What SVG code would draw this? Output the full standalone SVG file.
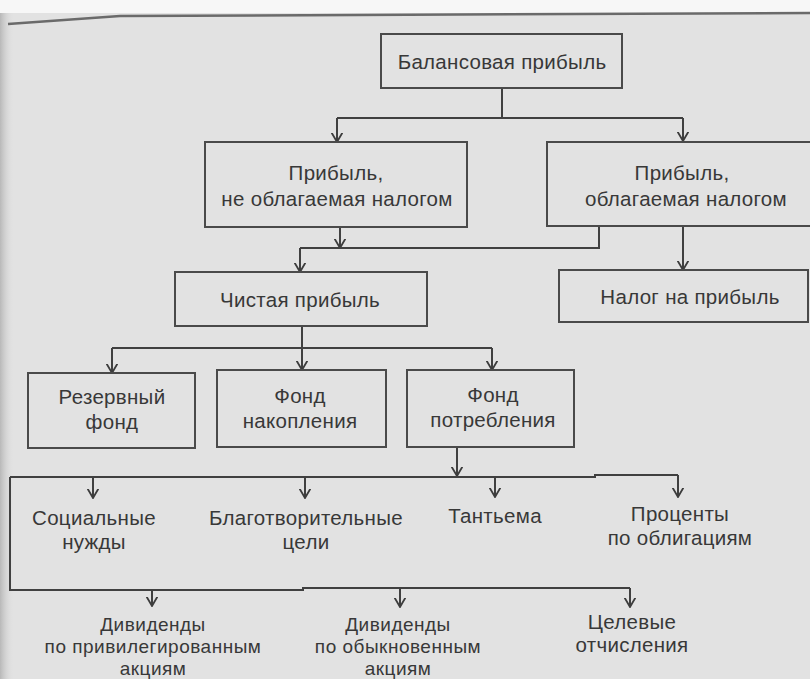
<svg xmlns="http://www.w3.org/2000/svg" width="810" height="679" viewBox="0 0 810 679">
  <defs>
    <linearGradient id="leftEdge" x1="0" y1="0" x2="1" y2="0">
      <stop offset="0" stop-color="#b8b8b8"/>
      <stop offset="1" stop-color="#e0e0e0" stop-opacity="0"/>
    </linearGradient>
    <marker id="arr" viewBox="0 0 10 12" refX="9.5" refY="6" markerWidth="10" markerHeight="12" markerUnits="userSpaceOnUse" orient="auto">
      <path d="M0,0.5 L9.5,6 L0,11.5" fill="none" stroke="#3c3c3c" stroke-width="1.8"/>
    </marker>
    <style>
      .box { fill: none; stroke: #4a4a4a; stroke-width: 2; }
      .ln { fill: none; stroke: #404040; stroke-width: 2; }
      .ar { fill: none; stroke: #404040; stroke-width: 2; marker-end: url(#arr); }
      text { font-family: "Liberation Sans", Arial, sans-serif; font-size: 20.5px; letter-spacing: 0.3px; fill: #383838; text-anchor: middle; }
      .sm { font-size: 19px; letter-spacing: 0.5px; }
    </style>
  </defs>

  <!-- page background -->
  <rect x="0" y="0" width="810" height="679" fill="#e2e2e2"/>
  <rect x="0" y="0" width="14" height="679" fill="url(#leftEdge)"/>
  <rect x="0" y="0" width="810" height="13" fill="#f7f7f7"/>
  <path d="M8,24 L120,16 L810,13" fill="none" stroke="#6a6a6a" stroke-width="2.5"/>

  <g id="connectors">
    <!-- top split -->
    <path class="ln" d="M502,88 V118"/>
    <path class="ln" d="M337,118 H683"/>
    <path class="ar" d="M337,118 V142"/>
    <path class="ar" d="M683,118 V141"/>
    <!-- to net profit -->
    <path class="ar" d="M340,227 V248"/>
    <path class="ln" d="M300,248 H599 V226"/>
    <path class="ar" d="M300,248 V272"/>
    <!-- to tax -->
    <path class="ar" d="M683,226 V270"/>
    <!-- net profit to funds -->
    <path class="ln" d="M302,326 V348"/>
    <path class="ln" d="M112,348 H492"/>
    <path class="ar" d="M112,348 V373"/>
    <path class="ar" d="M302,348 V370"/>
    <path class="ar" d="M492,348 V370"/>
    <!-- consumption fund distribution -->
    <path class="ar" d="M457,447 V476"/>
    <path class="ln" d="M10,477 H595 V475 H678"/>
    <path class="ln" d="M10,477 V590 H303 V588 H595 H630"/>
    <path class="ar" d="M93,477 V498"/>
    <path class="ar" d="M305,477 V498"/>
    <path class="ar" d="M495,476 V497"/>
    <path class="ar" d="M678,475 V497"/>
    <path class="ar" d="M152,590 V606"/>
    <path class="ar" d="M400,588 V607"/>
    <path class="ar" d="M630,588 V607"/>
  </g>

  <g id="n-balance">
    <rect class="box" x="381" y="34" width="241" height="54"/>
    <text x="502" y="69">Балансовая прибыль</text>
  </g>
  <g id="n-untaxed">
    <rect class="box" x="205" y="142" width="262" height="85"/>
    <text x="336" y="180">Прибыль,</text>
    <text x="337" y="206">не облагаемая налогом</text>
  </g>
  <g id="n-taxed">
    <path class="box" d="M815,142 H547 V226 H815"/>
    <text x="682" y="180">Прибыль,</text>
    <text x="686" y="206">облагаемая налогом</text>
  </g>
  <g id="n-net">
    <rect class="box" x="175" y="272" width="252" height="54"/>
    <text x="300" y="307">Чистая прибыль</text>
  </g>
  <g id="n-tax">
    <rect class="box" x="559" y="270" width="249" height="52"/>
    <text x="690" y="304">Налог на прибыль</text>
  </g>
  <g id="n-reserve">
    <rect class="box" x="28" y="373" width="167" height="75"/>
    <text x="112" y="404">Резервный</text>
    <text x="112" y="429">фонд</text>
  </g>
  <g id="n-accum">
    <rect class="box" x="217" y="370" width="169" height="77"/>
    <text x="300" y="403">Фонд</text>
    <text x="300" y="428">накопления</text>
  </g>
  <g id="n-consum">
    <rect class="box" x="407" y="370" width="167" height="77"/>
    <text x="493" y="402">Фонд</text>
    <text x="493" y="427">потребления</text>
  </g>
  <g id="n-social">
    <text x="94" y="525">Социальные</text>
    <text x="94" y="549">нужды</text>
  </g>
  <g id="n-charity">
    <text x="306" y="525">Благотворительные</text>
    <text x="306" y="549">цели</text>
  </g>
  <g id="n-tantieme">
    <text x="495" y="523">Тантьема</text>
  </g>
  <g id="n-bonds">
    <text x="680" y="521">Проценты</text>
    <text x="680" y="545">по облигациям</text>
  </g>
  <g id="n-div-pref">
    <text class="sm" x="153" y="631">Дивиденды</text>
    <text class="sm" x="153" y="653">по привилегированным</text>
    <text class="sm" x="153" y="675">акциям</text>
  </g>
  <g id="n-div-common">
    <text class="sm" x="398" y="631">Дивиденды</text>
    <text class="sm" x="398" y="653">по обыкновенным</text>
    <text class="sm" x="398" y="675">акциям</text>
  </g>
  <g id="n-target">
    <text x="632" y="629">Целевые</text>
    <text x="632" y="652">отчисления</text>
  </g>
</svg>
